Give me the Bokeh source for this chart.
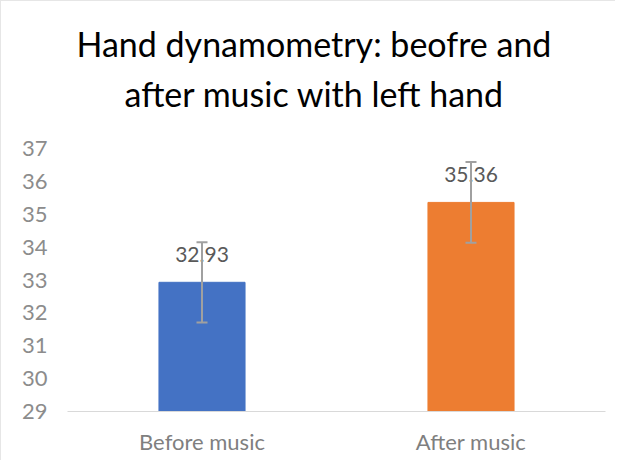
from bokeh.plotting import figure
from bokeh.models import ColumnDataSource, Range1d, FixedTicker, Whisker, TeeHead, Title
from bokeh.core.properties import value
from bokeh.embed import file_html
from bokeh.resources import INLINE

categories = ["Before music", "After music"]
means = [32.93, 35.36]
errors = [1.22, 1.23]
colors = ["#4472C4", "#ED7D31"]
labels = ["32.93", "35.36"]
y_ticks = [29, 30, 31, 32, 33, 34, 35, 36, 37]

FONT = "Lato"

src = ColumnDataSource(dict(
    cat=categories, val=means, color=colors, label=labels,
    upper=[m + e for m, e in zip(means, errors)],
    lower=[m - e for m, e in zip(means, errors)],
))

p = figure(x_range=categories, y_range=Range1d(29, 37), width=615, height=460,
           output_backend="svg", toolbar_location=None,
           min_border_left=66, min_border_right=11, min_border_bottom=50, min_border_top=147)
p.title = None
p.add_layout(Title(text=" ", text_font=FONT, text_font_size="12px", standoff=12), "above")
p.add_layout(Title(text="after music with left hand", align="left", text_font=FONT,
                   text_font_size="34px", text_font_style="normal", text_color="#000000",
                   standoff=11, offset=57), "above")
p.add_layout(Title(text="Hand dynamometry: beofre and", align="left", text_font=FONT,
                   text_font_size="34px", text_font_style="normal", text_color="#000000",
                   standoff=3, offset=9), "above")

p.vbar(x="cat", top="val", bottom=29, width=0.32, color="color", source=src)

w = Whisker(base="cat", upper="upper", lower="lower", source=src, level="overlay",
            line_color="#a0a0a0", line_width=2,
            upper_head=TeeHead(size=11, line_color="#a0a0a0", line_width=2),
            lower_head=TeeHead(size=11, line_color="#a0a0a0", line_width=2))
p.add_layout(w)

p.text(x="cat", y="val", text="label", source=src, text_align="center",
       text_baseline="alphabetic", y_offset=-28, text_font=value(FONT),
       text_font_size="21px", text_color="#595959")

p.xgrid.grid_line_color = None
p.ygrid.grid_line_color = None
p.outline_line_color = None

p.yaxis.ticker = FixedTicker(ticks=y_ticks)
p.yaxis.axis_line_color = None
p.yaxis.major_tick_line_color = None
p.yaxis.minor_tick_line_color = None
p.yaxis.major_tick_out = 0
p.yaxis.major_label_text_font = FONT
p.yaxis.major_label_text_font_size = "22px"
p.yaxis.major_label_text_color = "#8c8c8c"
p.yaxis.major_label_standoff = 20

p.xaxis.axis_line_color = "#d9d9d9"
p.xaxis.major_tick_line_color = None
p.xaxis.minor_tick_line_color = None
p.xaxis.major_tick_out = 0
p.xaxis.major_label_text_font = FONT
p.xaxis.major_label_text_font_size = "22px"
p.xaxis.major_label_text_color = "#7f7f7f"
p.xaxis.major_label_standoff = 16

p.x_range.range_padding = 0.0
p.styles = {"border-top": "1px solid #e6e6e6", "border-left": "1px solid #e6e6e6"}

open("out.html", "w").write(file_html(p, INLINE))
